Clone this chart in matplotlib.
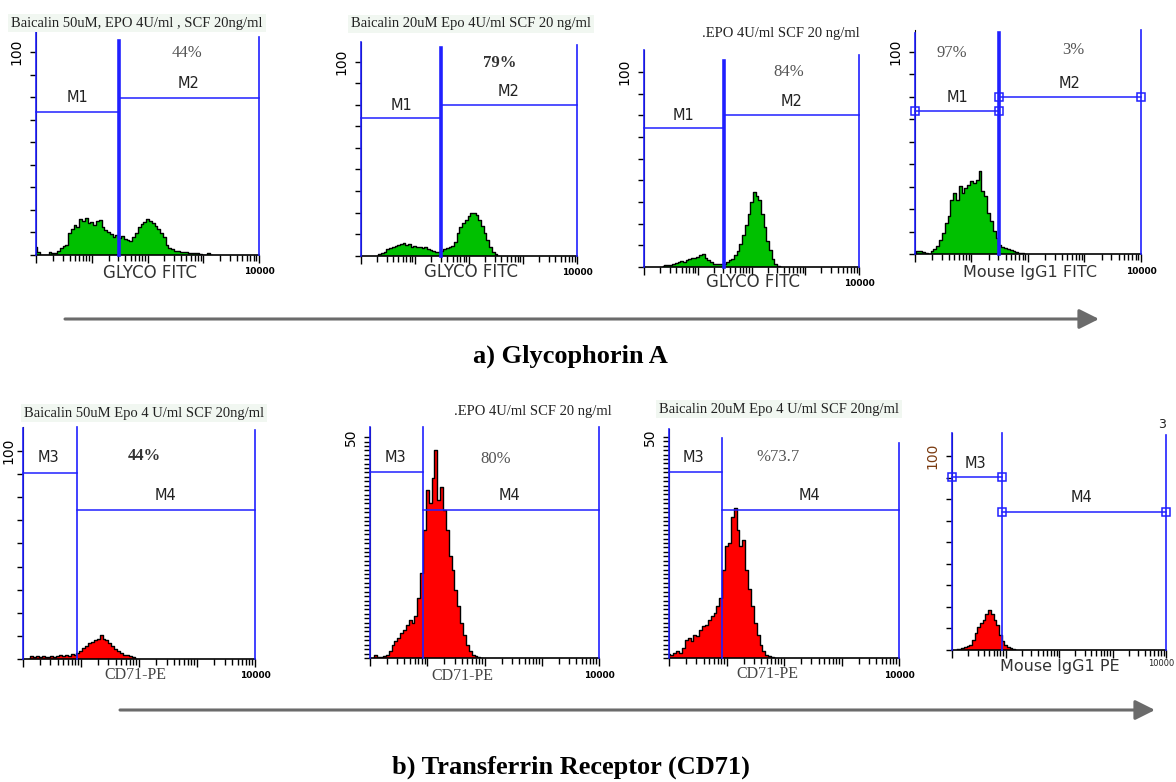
import matplotlib.pyplot as plt
import numpy as np

# === Data ===
# histogram counts on a log10(fluorescence) grid, 0.05 decade per bin;
# *_start is the log10 position of the first bin
STEP = 0.05

# a) Glycophorin A (green)
p1_start = 0.0   # Baicalin 50uM
p1_counts = [4, 1.6, 0, 0, 0, 1.3, 1.0, 0.8, 2, 3.3, 4.5, 5, 10.7, 13, 15, 14, 18, 17, 18.5, 16, 16.5, 15,
             16.8, 17.5, 14, 12.3, 11.5, 10.5, 9, 9.8, 8.2, 9.4, 7.7, 7.4, 7, 8.7, 10.7, 14, 15.3, 16.5, 17.8,
             16.6, 15.8, 14.3, 13, 10.7, 8.7, 5, 3.3, 2.8, 2.1, 1.8, 1.6, 1.3, 1.3, 1.1, 1, 0.8, 0.8, 0.5,
             0, 0, 0.8, 0]
p2_start = 0.30  # Baicalin 20uM
p2_counts = [0, 0.9, 1.2, 2, 3.3, 3.8, 4.3, 5, 5.5, 6, 6.7, 5.5, 6, 4.6, 5, 4.3, 4.6, 3.8, 4.3, 3.3, 2.9,
             2.6, 2, 1.9, 2.6, 3.3, 3.8, 4.3, 5, 7.2, 11.5, 15, 17, 18.4, 20.4, 21.8, 22.2, 21, 18.4, 15.3,
             11.5, 8, 4.3, 2, 0.9, 0]
p3_start = 0.35  # EPO + SCF
p3_counts = [0.3, 0.9, 0.9, 1.2, 1.7, 2, 2.6, 3.1, 2.7, 3.8, 4.3, 4.8, 4.4, 5.1, 6, 6.5, 4.8, 3.8, 2.6, 1.7,
             1.4, 1.7, 1.4, 1.7, 2.6, 3.8, 4.3, 6, 8.2, 12, 16.2, 21.4, 27.4, 33.3, 38.5, 36.2, 34.2, 27.4,
             20.5, 13.3, 8.5, 4.3, 1.7, 0.5, 0]
p4_start = 0.0   # Mouse IgG1 FITC isotype
p4_counts = [0, 1.3, 1.3, 1.2, 0.5, 0, 1.3, 2.5, 3.8, 7.1, 10.4, 15.3, 18.6, 26.9, 30.2, 26.9, 33.5, 30.2,
             32.7, 34.3, 36, 35.1, 36.8, 40.9, 31, 28.5, 20.3, 16.2, 11.2, 7.9, 4.6, 3.5, 3, 2.5, 1.8, 1.3,
             0.8, 0.5, 0.5, 0]

# b) Transferrin receptor CD71 (red)
p5_start = 0.10  # Baicalin 50uM
p5_counts = [0, 1.6, 1, 1.3, 0.8, 1.6, 0.8, 1.1, 1.6, 1, 1.3, 1.8, 1.4, 1.9, 1.6, 2.4, 2.1, 2.9, 3.7, 5.3,
             6.1, 7.7, 8, 9, 9.6, 11.7, 9.6, 9, 7.7, 6.4, 4.8, 3.7, 2.9, 2.1, 1.8, 1.3, 1, 0]
p6_start = 0.05  # EPO + SCF
p6_counts = [0, 0.7, 0.15, 0.15, 0.5, 0.75, 1.5, 3, 3.8, 4.5, 5.7, 6.4, 7.5, 8.7, 7.9, 9.4, 13.6, 19.2,
             29, 38, 35, 40.7, 47, 35.8, 38.8, 33.6, 29, 23, 20, 15.5, 11.7, 7.9, 5.3, 3, 1.5, 0.75, 0.4,
             0.15, 0]
p7_start = 0.0   # Baicalin 20uM
p7_counts = [0.8, 0.7, 1.1, 1.5, 1.1, 2.3, 4.1, 4.5, 3.8, 5.3, 4.9, 6.4, 7.2, 7.5, 8.7, 9.4, 10.2, 11.7,
             13.6, 20, 25.3, 26, 32, 34, 29, 25.3, 26.8, 20, 15.5, 11.7, 7.9, 5.3, 3, 1.5, 0.75, 0.4,
             0.15, 0]
p8_start = 0.10  # Mouse IgG1 PE isotype
p8_counts = [0.3, 0.7, 0.9, 1.4, 2.1, 2.6, 5.2, 8.6, 12, 13.7, 15.5, 18.6, 20.6, 18.6, 15.5, 12.9, 7.7,
             4.8, 2.6, 1.7, 1, 0.3, 0]

# gate markers: boundaries (fluorescence) and marker bar heights (counts)
p1_gates, p1_bars = [1, 30.8, 10000], [70.5, 77.5]
p2_gates, p2_bars = [1, 30.5, 10000], [71, 77.7]
p3_gates, p3_bars = [1, 30.8, 10000], [71.3, 78]
p4_gates, p4_bars = [1, 30.7, 10000], [70.8, 77.7]
p5_gates, p5_bars = [1, 8.5, 10000], [89.4, 71.6]
p6_gates, p6_bars = [1, 8.4, 10000], [42.1, 33.5]
p7_gates, p7_bars = [1, 8.4, 10000], [42.1, 33.5]
p8_gates, p8_bars = [1, 8.6, 10000], [89.2, 71.1]

W, H = 1176, 782
GREEN = '#00c000'
RED = '#ff0000'
BLUE = '#2020ff'
SERIF = 'Liberation Serif'
SANS = 'DejaVu Sans'

fig = plt.figure(figsize=(W / 100, H / 100), dpi=100)


def draw_panel(l, r, top, bottom, start, counts, fill, gates, bars, ymax, line_tops,
               yticks, ylabel, thick=False, squares=False, ylabel_color='black',
               ypad=5, end_label=True):
    ax = fig.add_axes([l / W, 1 - bottom / H, (r - l) / W, (bottom - top) / H])
    logx = start + STEP * np.arange(len(counts))
    x = 10 ** logx
    ax.fill_between(x, counts, step='mid', color=fill, lw=0, zorder=2)
    ax.step(x, counts, where='mid', color='black', lw=1.0, zorder=3)
    ax.set_xscale('log')
    ax.set_xlim(1, 10000)
    ax.set_ylim(0, ymax)

    # markers (blue gates)
    lw_div = 2.6 if thick else 1.2
    for g, t, w in zip(gates, line_tops, [1.2, lw_div, 1.2]):
        ax.plot([g, g], [0, t], color=BLUE, lw=w, clip_on=False, zorder=4)
    ax.plot(gates[:2], [bars[0]] * 2, color=BLUE, lw=1.1, clip_on=False, zorder=4)
    ax.plot(gates[1:], [bars[1]] * 2, color=BLUE, lw=1.1, clip_on=False, zorder=4)
    if squares:
        sx = [gates[0], gates[1], gates[1], gates[2]]
        sy = [bars[0], bars[0], bars[1], bars[1]]
        ax.plot(sx, sy, 's', ms=6, mfc='none', mec=BLUE, mew=1.1, clip_on=False, zorder=5)

    for side in ['top', 'right']:
        ax.spines[side].set_visible(False)
    ax.spines['left'].set_color('black')
    ax.spines['bottom'].set_color('black')
    ax.spines['bottom'].set_linewidth(1.2)

    last = '10000' if end_label else ''
    ax.set_xticks([1, 10, 100, 1000, 10000], labels=['', '', '', '', last],
                  fontsize=6.5, fontweight='bold')
    ax.tick_params(axis='x', which='major', length=6, width=1, pad=3)
    ax.tick_params(axis='x', which='minor', length=4, width=1, labelbottom=False)
    ax.set_yticks(yticks, labels=[''] * (len(yticks) - 1) + [ylabel], rotation=90,
                  va='center', fontsize=10, color=ylabel_color)
    ax.tick_params(axis='y', length=4, width=1, pad=ypad)
    return ax


# top row
draw_panel(36, 259, 30, 255, p1_start, p1_counts, GREEN, p1_gates, p1_bars, 111,
           [111, 105.6, 107.5], np.linspace(0, 100, 10), '100', thick=True)
draw_panel(360.7, 577, 41.7, 255.7, p2_start, p2_counts, GREEN, p2_gates, p2_bars, 110.3,
           [110.3, 107, 108.6], np.linspace(0, 100, 10), '100', thick=True)
draw_panel(644, 859, 50, 267, p3_start, p3_counts, GREEN, p3_gates, p3_bars, 111.3,
           [111.3, 105.6, 108.7], np.linspace(0, 100, 10), '100', thick=True)
draw_panel(915, 1141, 30, 254, p4_start, p4_counts, GREEN, p4_gates, p4_bars, 110.9,
           [109.4, 109.4, 110.9], np.linspace(0, 100, 10), '100', thick=True, squares=True)

# bottom row
draw_panel(22.7, 255, 427, 659, p5_start, p5_counts, RED, p5_gates, p5_bars, 111.5,
           [111, 111.5, 110], np.linspace(0, 100, 10), '100', ypad=1)
draw_panel(370, 599, 427, 658, p6_start, p6_counts, RED, p6_gates, p6_bars, 52.3,
           [52.3, 52.3, 52.3], np.arange(0, 51), '50')
draw_panel(669, 899, 429, 658, p7_start, p7_counts, RED, p7_gates, p7_bars, 51.8,
           [51.8, 49.8, 48.6], np.arange(0, 51), '50')
draw_panel(952, 1166, 433, 650, p8_start, p8_counts, RED, p8_gates, p8_bars, 111.9,
           [111.9, 111.9, 110.8], np.linspace(0, 100, 10), '100', squares=True,
           ylabel_color='#7a3a10', end_label=False)

# overlay in pixel coordinates for all the loose text and arrows
ov = fig.add_axes([0, 0, 1, 1])
ov.set_xlim(0, W)
ov.set_ylim(H, 0)
ov.axis('off')
ov.patch.set_alpha(0)

bg = dict(facecolor='#f1f7f1', edgecolor='none', pad=2)
title_kw = dict(family=SERIF, fontsize=10.5, color='#222222', ha='center', va='center')
ov.text(137, 23, 'Baicalin 50uM, EPO 4U/ml , SCF 20ng/ml', bbox=bg, **title_kw)
ov.text(471, 24, 'Baicalin 20uM Epo 4U/ml SCF 20 ng/ml', bbox=bg, **title_kw)
ov.text(781, 33, '.EPO 4U/ml SCF 20 ng/ml', **title_kw)
ov.text(144, 413, 'Baicalin 50uM Epo 4 U/ml SCF 20ng/ml', bbox=bg, **title_kw)
ov.text(533, 412, '.EPO 4U/ml SCF 20 ng/ml', **title_kw)
ov.text(779, 409, 'Baicalin 20uM Epo 4 U/ml SCF 20ng/ml', bbox=bg, **title_kw)

pct_kw = dict(family=SERIF, fontsize=12, color='#555555', ha='center', va='center')
ov.text(187, 53, '44%', **pct_kw)
ov.text(500, 63, '79%', **{**pct_kw, 'color': '#333333', 'fontweight': 'bold'})
ov.text(789, 72, '84%', **pct_kw)
ov.text(952, 53, '97%', **pct_kw)
ov.text(1073, 50, '3%', **pct_kw)
ov.text(144, 456, '44%', **{**pct_kw, 'color': '#333333', 'fontweight': 'bold'})
ov.text(496, 459, '80%', **pct_kw)
ov.text(778, 457, '%73.7', **pct_kw)

m_kw = dict(family=SANS, fontsize=10.5, color='#222222', ha='center', va='center')
for x, y, s in [(77, 97, 'M1'), (189, 83, 'M2'), (401, 106, 'M1'), (509, 92, 'M2'),
                (684, 116, 'M1'), (792, 102, 'M2'), (957, 97, 'M1'), (1070, 83, 'M2'),
                (48, 458, 'M3'), (165, 496, 'M4'), (395, 458, 'M3'), (509, 496, 'M4'),
                (693, 458, 'M3'), (809, 496, 'M4'), (975, 463, 'M3'), (1082, 497, 'M4')]:
    ov.text(x, y, s, **m_kw)

ax_kw = dict(family=SANS, fontsize=12, color='#333333', ha='center', va='center')
ov.text(150, 273, 'GLYCO FITC', **ax_kw)
ov.text(471, 272, 'GLYCO FITC', **ax_kw)
ov.text(753, 282, 'GLYCO FITC', **ax_kw)
ov.text(1030, 272, 'Mouse IgG1 FITC', **{**ax_kw, 'fontsize': 11.5})
ov.text(1060, 666, 'Mouse IgG1 PE', **{**ax_kw, 'fontsize': 11.5})
cd_kw = dict(family=SERIF, fontsize=11.5, color='#444444', ha='center', va='center')
ov.text(135, 675, 'CD71-PE', **cd_kw)
ov.text(462, 676, 'CD71-PE', **cd_kw)
ov.text(767, 674, 'CD71-PE', **cd_kw)
ov.text(1162, 425, '3', family=SANS, fontsize=9, color='#222222', ha='center', va='center')
ov.text(1174, 663, '10000', family=SANS, fontsize=6, color='#222222', ha='right', va='center')

# trend arrows
arrow = dict(arrowstyle='-|>,head_length=0.6,head_width=0.3', color='#6b6b6b',
             lw=2.2, mutation_scale=20, shrinkA=0, shrinkB=0)
ov.annotate('', xy=(1099, 319), xytext=(65, 319), arrowprops=arrow)
ov.annotate('', xy=(1155, 710), xytext=(120, 710), arrowprops=arrow)

sec_kw = dict(family=SERIF, fontsize=19, fontweight='bold', color='black', ha='center', va='center')
ov.text(570, 356, 'a) Glycophorin A', **sec_kw)
ov.text(571, 767, 'b) Transferrin Receptor (CD71)', **sec_kw)

fig.savefig('out.png', dpi=100, facecolor='white')
